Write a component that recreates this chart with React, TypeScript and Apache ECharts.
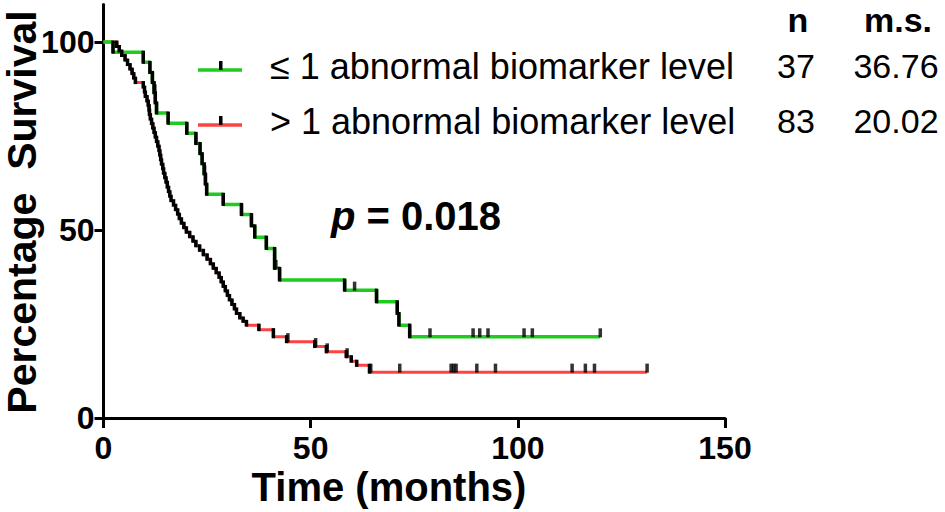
import React, { useEffect, useRef } from "react";
import * as echarts from "echarts";

// ≤ 1 abnormal biomarker level (green)
const greenTimes = [0, 2.3, 9.6, 11.2, 11.8, 12.2, 12.5, 12.8, 15.6, 20.1, 22.3, 23.3, 23.8, 24.3, 24.6, 24.9, 28.9, 33.3, 35.7, 36.5, 39.3, 41.3, 42.5, 58.2, 65.9, 70.9, 71.3, 73.9, 119.9];
const greenSurv = [100, 97.3, 94.6, 91.9, 89.2, 86.5, 83.8, 81.1, 78.4, 75.7, 73.0, 70.3, 67.6, 64.9, 62.2, 59.5, 56.8, 54.1, 51.1, 48.1, 45.1, 39.8, 36.7, 34.0, 30.9, 27.8, 24.7, 21.6, 21.6];
const greenCensor = [12.4, 24.4, 41.6, 60.6, 78.8, 89.2, 90.8, 92.8, 101.5, 103.5, 119.9];

// > 1 abnormal biomarker level (red)
const redTimes = [0, 3.2, 3.8, 4.4, 5.2, 5.8, 6.4, 6.9, 7.3, 7.7, 9.6, 9.9, 10.1, 10.5, 10.8, 11.0, 11.1, 11.3, 11.6, 11.9, 12.2, 12.5, 12.8, 13.1, 13.4, 13.6, 13.8, 14.0, 14.3, 14.5, 14.8, 15.1, 15.4, 15.7, 16.0, 16.3, 16.9, 17.4, 17.9, 18.3, 18.8, 19.4, 20.0, 20.8, 21.6, 22.3, 23.2, 24.1, 25.0, 25.8, 26.5, 27.2, 27.9, 28.4, 28.9, 29.4, 29.9, 30.4, 31.0, 31.6, 32.1, 32.9, 33.7, 34.5, 37.5, 41.0, 44.2, 51.0, 53.8, 58.6, 59.8, 61.1, 64.2, 131.2];
const redSurv = [100, 98.8, 97.6, 96.4, 95.2, 94.0, 92.8, 91.6, 90.4, 89.2, 88.0, 86.7, 85.5, 84.3, 83.1, 81.9, 80.7, 79.5, 78.3, 77.1, 75.9, 74.7, 73.5, 72.3, 71.1, 69.9, 68.7, 67.5, 66.3, 65.1, 63.9, 62.7, 61.4, 60.2, 59.0, 57.8, 56.6, 55.4, 54.2, 53.0, 51.8, 50.6, 49.4, 48.2, 47.0, 45.8, 44.6, 43.4, 42.2, 41.0, 39.8, 38.6, 37.4, 36.2, 35.0, 33.8, 32.6, 31.4, 30.2, 29.0, 27.8, 26.6, 25.7, 24.7, 23.5, 21.6, 20.3, 19.0, 17.6, 16.3, 15.1, 14.0, 12.2, 12.2];
const redCensor = [44.5, 51.2, 54.0, 58.8, 64.5, 71.5, 83.9, 84.5, 85.1, 90.1, 94.6, 113.1, 116.3, 118.5, 131.2];

const xTicks = [0, 50, 100, 150];
const yTicks = [0, 50, 100];
const legendLabels = ["≤ 1 abnormal biomarker level", "> 1 abnormal biomarker level"];
const groupN = ["37", "83"];
const medianSurvival = ["36.76", "20.02"];
const pValue = "0.018";

const GREEN = "#1ecb1e";
const RED = "#ff4242";
const FONT = "'Liberation Sans', Arial, Helvetica, sans-serif";

function stepAt(times: number[], surv: number[], t: number) {
  let s = surv[0];
  for (let i = 0; i < times.length; i++) if (times[i] <= t) s = surv[i];
  return s;
}

function drops(times: number[], surv: number[]) {
  const out: number[][] = [];
  for (let i = 1; i < times.length; i++) {
    if (surv[i] !== surv[i - 1]) out.push([times[i], surv[i - 1], surv[i]]);
  }
  return out;
}

export default function App() {
  const ref = useRef<HTMLDivElement>(null);
  useEffect(() => {
    document.body.style.margin = "0";
    const chart = echarts.init(ref.current!, null, { renderer: "svg" });
    const dropRender = (params: any, api: any) => {
      const a = api.coord([api.value(0), api.value(1)]);
      const b = api.coord([api.value(0), api.value(2)]);
      return {
        type: "line",
        shape: { x1: a[0], y1: a[1] - 1.5, x2: b[0], y2: b[1] + 1.5 },
        style: { stroke: "#000", lineWidth: 3.5 },
      };
    };
    const censorSeries = (times: number[], surv: number[], cens: number[]) => ({
      type: "scatter",
      data: cens.map((c) => [c, stepAt(times, surv, c)]),
      symbol: "rect",
      symbolSize: [3.5, 9],
      symbolOffset: [0, -4],
      itemStyle: { color: "#000" },
      silent: true,
      z: 5,
    });
    const legendRow = (i: number, color: string, y: number) => [
      { type: "line", shape: { x1: 198, y1: y + 4, x2: 242, y2: y + 4 }, style: { stroke: color, lineWidth: 3.5 } },
      { type: "rect", shape: { x: 219, y: y - 5, width: 3.5, height: 9 }, style: { fill: "#000" } },
      { type: "text", x: 270, y: y, style: { text: legendLabels[i], font: `36px ${FONT}`, fill: "#000", textVerticalAlign: "middle" } },
      { type: "text", x: 796, y: y, style: { text: groupN[i], font: `34px ${FONT}`, fill: "#000", textAlign: "center", textVerticalAlign: "middle" } },
      { type: "text", x: 896, y: y, style: { text: medianSurvival[i], font: `34px ${FONT}`, fill: "#000", textAlign: "center", textVerticalAlign: "middle" } },
    ];
    chart.setOption({
      animation: false,
      grid: { left: 103.5, right: 220, top: 4.4, bottom: 94, containLabel: false },
      xAxis: {
        type: "value",
        min: 0,
        max: 150,
        interval: 50,
        axisLine: { lineStyle: { color: "#000", width: 3 } },
        axisTick: { length: 10, lineStyle: { color: "#000", width: 3 }, customValues: xTicks },
        axisLabel: { color: "#000", fontSize: 32, fontWeight: "bold", fontFamily: FONT, margin: 14, customValues: xTicks },
        splitLine: { show: false },
      },
      yAxis: {
        type: "value",
        min: 0,
        max: 110,
        axisLine: { lineStyle: { color: "#000", width: 3 } },
        axisTick: { length: 9, lineStyle: { color: "#000", width: 3 }, customValues: yTicks },
        axisLabel: { color: "#000", fontSize: 32, fontWeight: "bold", fontFamily: FONT, margin: 9, customValues: yTicks },
        splitLine: { show: false },
      },
      series: [
        {
          type: "line",
          step: "end",
          data: redTimes.map((t, i) => [t, redSurv[i]]),
          symbol: "none",
          lineStyle: { color: RED, width: 3 },
          z: 2,
        },
        {
          type: "line",
          step: "end",
          data: greenTimes.map((t, i) => [t, greenSurv[i]]),
          symbol: "none",
          lineStyle: { color: GREEN, width: 3.5 },
          z: 3,
        },
        { type: "custom", renderItem: dropRender, data: drops(redTimes, redSurv), encode: { x: 0, y: [1, 2] }, z: 4, silent: true },
        { type: "custom", renderItem: dropRender, data: drops(greenTimes, greenSurv), encode: { x: 0, y: [1, 2] }, z: 4, silent: true },
        censorSeries(redTimes, redSurv, redCensor),
        censorSeries(greenTimes, greenSurv, greenCensor),
      ],
      graphic: [
        ...legendRow(0, GREEN, 66),
        ...legendRow(1, RED, 121),
        { type: "text", x: 798, y: 20, style: { text: "n", font: `bold 34px ${FONT}`, fill: "#000", textAlign: "center", textVerticalAlign: "middle" } },
        { type: "text", x: 898, y: 20, style: { text: "m.s.", font: `bold 34px ${FONT}`, fill: "#000", textAlign: "center", textVerticalAlign: "middle" } },
        {
          type: "text",
          x: 331,
          y: 216,
          style: {
            text: `{i|p}{b| = ${pValue}}`,
            rich: {
              i: { font: `italic bold 40px ${FONT}`, fill: "#000" },
              b: { font: `bold 40px ${FONT}`, fill: "#000" },
            },
            textVerticalAlign: "middle",
          },
        },
        {
          type: "text",
          x: 22,
          y: 212,
          rotation: Math.PI / 2,
          style: { text: "Percentage  Survival", font: `bold 41px ${FONT}`, fill: "#000", textAlign: "center", textVerticalAlign: "middle" },
        },
        {
          type: "text",
          x: 389,
          y: 487,
          style: { text: "Time (months)", font: `bold 40px ${FONT}`, fill: "#000", textAlign: "center", textVerticalAlign: "middle" },
        },
      ],
    });
    return () => chart.dispose();
  }, []);
  return <div ref={ref} style={{ width: 945, height: 512 }} />;
}
